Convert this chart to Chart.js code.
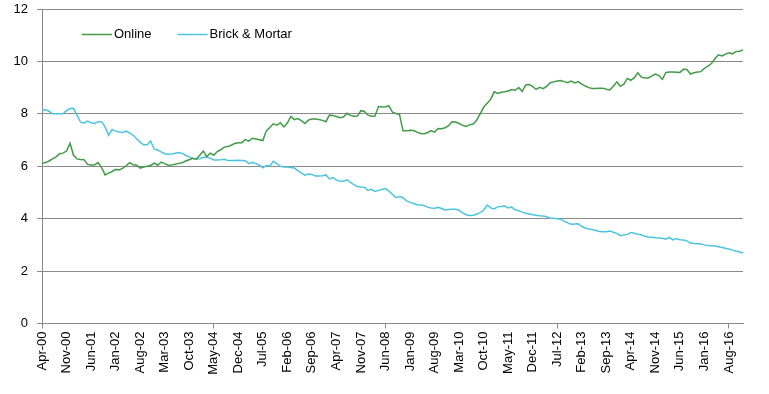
<!DOCTYPE html>
<html>
<head>
<meta charset="utf-8">
<script src="https://cdn.jsdelivr.net/npm/chart.js@4.4.1/dist/chart.umd.min.js"></script>
<style>
  html, body { margin: 0; padding: 0; background: #ffffff; }
  #wrap { width: 769px; height: 394px; }
</style>
</head>
<body>
<div id="wrap"><canvas id="c" width="769" height="394"></canvas></div>
<script>
// ---- Data (monthly, Apr-00 .. Dec-16) ----
const monthNames = ['Jan','Feb','Mar','Apr','May','Jun','Jul','Aug','Sep','Oct','Nov','Dec'];
const startMonth = 3, startYear = 2000, monthCount = 201;
const months = [];
for (let i = 0; i < monthCount; i++) {
  const m = startMonth + i;
  const yy = String((startYear + Math.floor(m / 12)) % 100).padStart(2, '0');
  months.push(monthNames[m % 12] + '-' + yy);
}
const tickEvery = 7;

const online = [
  6.10, 6.14, 6.20, 6.28, 6.36, 6.48, 6.50, 6.58, 6.88, 6.42,
  6.28, 6.26, 6.25, 6.07, 6.05, 6.05, 6.14, 5.95, 5.67, 5.74,
  5.80, 5.88, 5.86, 5.92, 6.02, 6.14, 6.06, 6.04, 5.93, 5.97,
  6.00, 6.03, 6.12, 6.04, 6.16, 6.10, 6.04, 6.05, 6.08, 6.11,
  6.13, 6.20, 6.25, 6.30, 6.27, 6.42, 6.58, 6.37, 6.50, 6.42,
  6.56, 6.63, 6.73, 6.75, 6.80, 6.87, 6.90, 6.90, 7.02, 6.96,
  7.07, 7.04, 7.01, 6.98, 7.35, 7.48, 7.62, 7.57, 7.66, 7.50,
  7.65, 7.90, 7.78, 7.82, 7.74, 7.63, 7.76, 7.80, 7.80, 7.78,
  7.75, 7.70, 7.95, 7.94, 7.90, 7.85, 7.88, 8.02, 7.94, 7.91,
  7.92, 8.12, 8.09, 7.95, 7.91, 7.92, 8.28, 8.26, 8.27, 8.30,
  8.06, 8.01, 7.97, 7.35, 7.35, 7.37, 7.36, 7.30, 7.25, 7.24,
  7.28, 7.36, 7.30, 7.44, 7.43, 7.47, 7.55, 7.70, 7.69, 7.63,
  7.56, 7.52, 7.58, 7.61, 7.75, 8.00, 8.25, 8.40, 8.55, 8.84,
  8.78, 8.82, 8.84, 8.87, 8.93, 8.90, 9.00, 8.85, 9.10, 9.12,
  9.04, 8.93, 9.01, 8.96, 9.05, 9.19, 9.22, 9.25, 9.27, 9.23,
  9.19, 9.25, 9.18, 9.23, 9.13, 9.06, 9.00, 8.97, 8.97, 8.98,
  8.98, 8.94, 8.91, 9.05, 9.22, 9.05, 9.13, 9.35, 9.28, 9.38,
  9.57, 9.40, 9.37, 9.37, 9.45, 9.52, 9.46, 9.32, 9.58, 9.60,
  9.60, 9.59, 9.58, 9.70, 9.69, 9.52, 9.57, 9.60, 9.61, 9.74,
  9.82, 9.92, 10.10, 10.25, 10.21, 10.28, 10.33, 10.29, 10.38, 10.39,
  10.44
];

const brickMortar = [
  8.12, 8.16, 8.10, 8.00, 8.00, 8.00, 8.00, 8.12, 8.20, 8.21,
  7.95, 7.68, 7.65, 7.72, 7.66, 7.63, 7.70, 7.70, 7.50, 7.18,
  7.40, 7.34, 7.31, 7.29, 7.34, 7.27, 7.18, 7.05, 6.92, 6.82,
  6.82, 6.96, 6.66, 6.62, 6.55, 6.48, 6.46, 6.47, 6.50, 6.52,
  6.49, 6.42, 6.36, 6.30, 6.28, 6.29, 6.33, 6.35, 6.31, 6.24,
  6.24, 6.25, 6.27, 6.22, 6.22, 6.22, 6.23, 6.22, 6.21, 6.10,
  6.15, 6.10, 6.04, 5.94, 6.03, 6.01, 6.19, 6.10, 6.00, 5.97,
  5.97, 5.95, 5.93, 5.83, 5.74, 5.66, 5.70, 5.69, 5.63, 5.63,
  5.64, 5.67, 5.52, 5.57, 5.47, 5.44, 5.43, 5.48, 5.38, 5.30,
  5.23, 5.21, 5.20, 5.08, 5.12, 5.04, 5.08, 5.12, 5.15, 5.05,
  4.92, 4.80, 4.84, 4.80, 4.68, 4.62, 4.58, 4.53, 4.52, 4.50,
  4.44, 4.41, 4.40, 4.43, 4.39, 4.33, 4.35, 4.36, 4.36, 4.32,
  4.22, 4.15, 4.12, 4.13, 4.17, 4.23, 4.32, 4.52, 4.41, 4.37,
  4.45, 4.46, 4.48, 4.41, 4.44, 4.34, 4.30, 4.25, 4.21, 4.18,
  4.15, 4.13, 4.11, 4.10, 4.07, 4.02, 4.02, 4.00, 3.98, 3.90,
  3.84, 3.79, 3.80, 3.81, 3.70, 3.64, 3.61, 3.59, 3.55, 3.51,
  3.50, 3.50, 3.53, 3.48, 3.44, 3.35, 3.38, 3.40, 3.47, 3.44,
  3.41, 3.38, 3.33, 3.30, 3.29, 3.27, 3.26, 3.25, 3.22, 3.29,
  3.19, 3.24, 3.20, 3.19, 3.15, 3.07, 3.05, 3.04, 3.03, 3.00,
  2.98, 2.97, 2.96, 2.93, 2.90, 2.87, 2.84, 2.80, 2.77, 2.73,
  2.69
];

const seriesNames = ['Online', 'Brick & Mortar'];
const yTicks = { min: 0, max: 12, step: 2 };

// ---- Styles ----
const GREEN = '#3f9b45';
const CYAN = '#4cc4e0';
const GRID = '#8a8a8a';
const FONT = "'Liberation Sans', Arial, sans-serif";

const insideLegend = {
  id: 'insideLegend',
  afterDraw(chart) {
    const ctx = chart.ctx;
    ctx.save();
    ctx.font = '13px ' + FONT;
    ctx.textBaseline = 'middle';
    ctx.fillStyle = '#000';
    let x = 82;
    const y = 34.5;
    chart.data.datasets.forEach(ds => {
      ctx.strokeStyle = ds.borderColor;
      ctx.lineWidth = 1.5;
      ctx.beginPath();
      ctx.moveTo(x, y);
      ctx.lineTo(x + 30, y);
      ctx.stroke();
      ctx.fillText(ds.label, x + 32, y);
      x += 32 + ctx.measureText(ds.label).width + 26;
    });
    ctx.restore();
  }
};

new Chart(document.getElementById('c'), {
  type: 'line',
  data: {
    labels: months,
    datasets: [
      { label: seriesNames[0], data: online, borderColor: GREEN, backgroundColor: GREEN,
        borderWidth: 1.5, pointRadius: 0, tension: 0, fill: false },
      { label: seriesNames[1], data: brickMortar, borderColor: CYAN, backgroundColor: CYAN,
        borderWidth: 1.5, pointRadius: 0, tension: 0, fill: false }
    ]
  },
  options: {
    responsive: false,
    devicePixelRatio: 1,
    animation: false,
    layout: { padding: { top: 9, right: 26, left: 0, bottom: 0 } },
    plugins: { legend: { display: false }, tooltip: { enabled: false } },
    scales: {
      x: {
        type: 'category',
        offset: false,
        grid: {
          drawOnChartArea: false,
          drawTicks: true,
          tickLength: 5,
          tickColor: (c) => (c.index % tickEvery === 0 ? GRID : 'rgba(0,0,0,0)')
        },
        border: { display: true, color: GRID, width: 1 },
        ticks: {
          autoSkip: false,
          minRotation: 90,
          maxRotation: 90,
          padding: 3,
          color: '#000',
          font: { family: FONT, size: 13 },
          callback: function (v, i) { return i % tickEvery === 0 ? this.getLabelForValue(v) : null; }
        },
        afterFit: (s) => { s.height = 70.5; s.paddingLeft = 0; s.paddingRight = 0; }
      },
      y: {
        min: yTicks.min,
        max: yTicks.max,
        grid: { color: GRID, lineWidth: 1, tickLength: 5, drawTicks: true },
        border: { display: true, color: GRID, width: 1 },
        ticks: {
          stepSize: yTicks.step,
          padding: 9,
          color: '#000',
          font: { family: FONT, size: 13 }
        },
        afterFit: (s) => { s.width = 42; s.paddingTop = 0; s.paddingBottom = 0; }
      }
    }
  },
  plugins: [insideLegend]
});
</script>
</body>
</html>
